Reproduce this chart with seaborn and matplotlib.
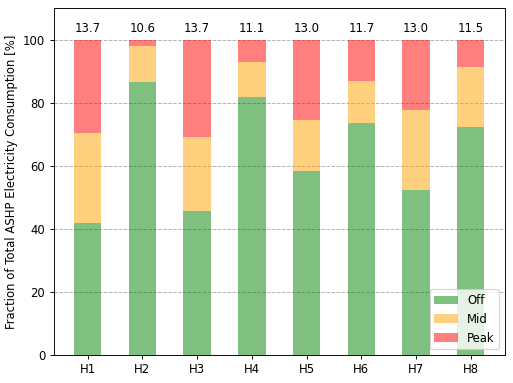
import numpy as np
import pandas as pd
import matplotlib
matplotlib.use("Agg")
import matplotlib.pyplot as plt
import seaborn as sns

houses = ["H1", "H2", "H3", "H4", "H5", "H6", "H7", "H8"]
off = [41.9, 86.4, 45.8, 81.7, 58.4, 73.6, 52.2, 72.4]
mid = [28.4, 11.6, 23.4, 11.3, 16.1, 13.3, 25.4, 18.8]
peak = [100 - o - m for o, m in zip(off, mid)]
top_labels = ["13.7", "10.6", "13.7", "11.1", "13.0", "11.7", "13.0", "11.5"]

df = pd.DataFrame({"house": houses, "Off": off, "Mid": mid, "Peak": peak})
bottom_mid = np.array(off)
bottom_peak = np.array(off) + np.array(mid)

dpi = 84
fig, ax = plt.subplots(figsize=(513 / dpi, 383 / dpi), dpi=dpi)

sns.barplot(data=df, x="house", y="Off", color="green", alpha=0.5, width=0.5,
            saturation=1, label="Off", ax=ax)
sns.barplot(data=df, x="house", y="Mid", color="orange", alpha=0.5, width=0.5,
            saturation=1, bottom=bottom_mid, label="Mid", ax=ax)
sns.barplot(data=df, x="house", y="Peak", color="red", alpha=0.5, width=0.5,
            saturation=1, bottom=bottom_peak, label="Peak", ax=ax)

for i, lab in enumerate(top_labels):
    ax.text(i, 101.5, lab, ha="center", va="bottom", fontsize=10)

ax.set_xlim(-0.625, 7.625)
ax.set_ylim(0, 110)
ax.set_xlabel("")
ax.set_ylabel("Fraction of Total ASHP Electricity Consumption [%]")
ax.yaxis.grid(True, linestyle="--", color="#b0b0b0")
ax.set_axisbelow(True)
ax.legend(loc="lower right")

fig.subplots_adjust(left=53.5 / 513, right=505 / 513, top=1 - 8 / 383, bottom=1 - 355 / 383)
plt.savefig("out.png")
